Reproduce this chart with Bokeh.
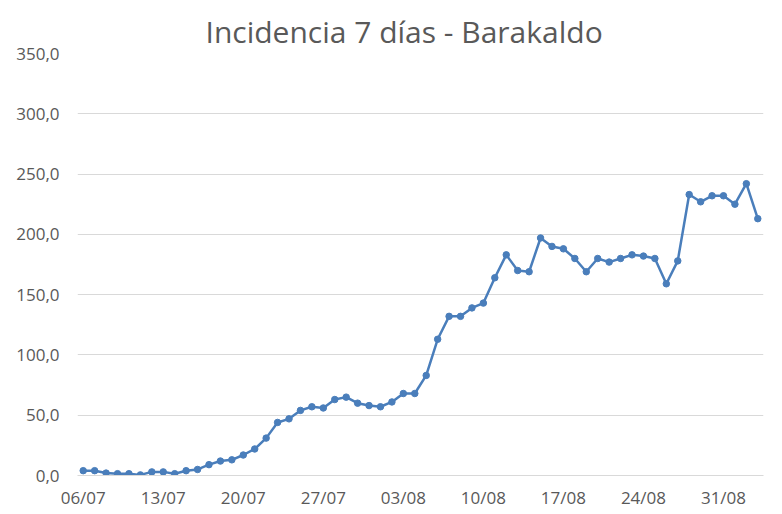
from bokeh.plotting import figure
from bokeh.models import FixedTicker, Range1d
from bokeh.embed import file_html
from bokeh.resources import INLINE

# Daily 7-day incidence, 06/07 .. 03/09
dates = ["06/07", "07/07", "08/07", "09/07", "10/07", "11/07", "12/07",
         "13/07", "14/07", "15/07", "16/07", "17/07", "18/07", "19/07",
         "20/07", "21/07", "22/07", "23/07", "24/07", "25/07", "26/07",
         "27/07", "28/07", "29/07", "30/07", "31/07", "01/08", "02/08",
         "03/08", "04/08", "05/08", "06/08", "07/08", "08/08", "09/08",
         "10/08", "11/08", "12/08", "13/08", "14/08", "15/08", "16/08",
         "17/08", "18/08", "19/08", "20/08", "21/08", "22/08", "23/08",
         "24/08", "25/08", "26/08", "27/08", "28/08", "29/08", "30/08",
         "31/08", "01/09", "02/09", "03/09"]
incidence = [4, 4, 2, 1.5, 1.5, 0.5, 3,
             3, 1.5, 4, 5, 9, 12, 13,
             17, 22, 31, 44, 47, 54, 57,
             56, 63, 65, 60, 58, 57, 61,
             68, 68, 83, 113, 132, 132, 139,
             143, 164, 183, 170, 169, 197, 190,
             188, 180, 169, 180, 177, 180, 183,
             182, 180, 159, 178, 233, 227, 232,
             232, 225, 242, 213]
x_tick_labels = ["06/07", "13/07", "20/07", "27/07", "03/08", "10/08", "17/08", "24/08", "31/08"]
y_ticks = [0, 50, 100, 150, 200, 250, 300, 350]
y_tick_labels = ["0,0", "50,0", "100,0", "150,0", "200,0", "250,0", "300,0", "350,0"]

xs = list(range(len(dates)))
x_ticks = [dates.index(d) for d in x_tick_labels]

TEXT = "#595959"
GRID = "#d9d9d9"
BLUE = "#4a7ebb"

p = figure(width=782, height=514, output_backend="svg", toolbar_location=None,
           x_range=Range1d(-0.5, len(dates) - 0.5), y_range=Range1d(0, 350),
           min_border_left=77, min_border_right=19, min_border_top=53, min_border_bottom=39)

p.title.text = "Incidencia 7 días - Barakaldo"
p.title.align = "left"
p.title.offset = 128
p.title.standoff = 3
p.title.text_font = "Open Sans"
p.title.text_font_size = "30px"
p.title.text_font_style = "normal"
p.title.text_color = TEXT

p.line(xs, incidence, line_color=BLUE, line_width=2.5)
p.scatter(xs, incidence, size=6.5, fill_color=BLUE, line_color=BLUE)

p.outline_line_color = None
p.background_fill_color = "white"
p.border_fill_color = "white"

p.xgrid.grid_line_color = None
p.ygrid.grid_line_color = GRID
p.ygrid.grid_line_width = 1

p.xaxis.ticker = FixedTicker(ticks=x_ticks)
p.xaxis.major_label_overrides = {t: l for t, l in zip(x_ticks, x_tick_labels)}
p.yaxis.ticker = FixedTicker(ticks=y_ticks)
p.yaxis.major_label_overrides = {t: l for t, l in zip(y_ticks, y_tick_labels)}

for ax in (p.xaxis, p.yaxis):
    ax.major_tick_line_color = None
    ax.minor_tick_line_color = None
    ax.major_tick_out = 0
    ax.major_tick_in = 0
    ax.minor_tick_out = 0
    ax.minor_tick_in = 0
    ax.major_label_text_font = "Open Sans"
    ax.major_label_text_font_size = "17px"
    ax.major_label_text_color = TEXT

p.xaxis.axis_line_color = GRID
p.yaxis.axis_line_color = None
p.xaxis.major_label_standoff = 10
p.yaxis.major_label_standoff = 18

open("out.html", "w").write(file_html(p, INLINE))
